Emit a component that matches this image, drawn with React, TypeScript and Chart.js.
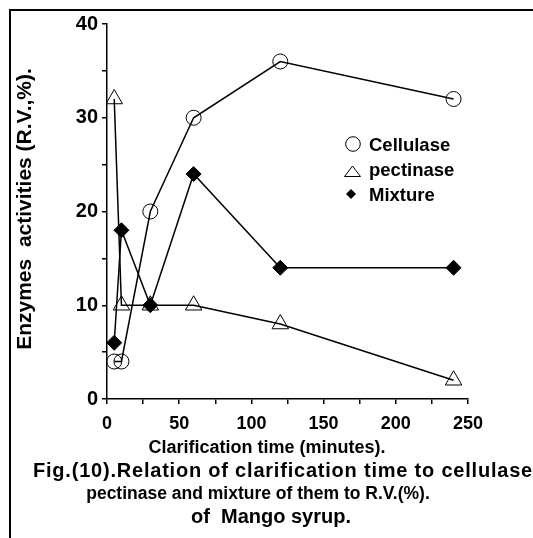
import React, { useEffect, useRef } from "react";
import { Chart, registerables } from "chart.js";

Chart.register(...registerables);

const times = [5, 10, 30, 60, 120, 240];
const cellulase = [4, 4, 20, 30, 36, 32];
const pectinase = [32, 10, 10, 10, 8, 2];
const mixture = [6, 18, 10, 24, 14, 14];
const seriesNames = ["Cellulase", "pectinase", "Mixture"];
const yTitle = "Enzymes  activities (R.V.,%).";
const xTitle = "Clarification time (minutes).";
const captionLines = [
  "Fig.(10).Relation of clarification time to cellulase",
  "pectinase and mixture of them to R.V.(%).",
  "of  Mango syrup.",
];

const FONT = '"Liberation Sans", Arial, Helvetica, sans-serif';

export default function App() {
  const ref = useRef<HTMLCanvasElement>(null);

  useEffect(() => {
    const canvas = ref.current;
    if (!canvas) return;
    const pts = (ys: number[]) => times.map((t, i) => ({ x: t, y: ys[i] }));

    const decor = {
      id: "decor",
      afterDraw(chart: any) {
        const ctx: CanvasRenderingContext2D = chart.ctx;
        ctx.save();
        ctx.fillStyle = "#000";
        ctx.strokeStyle = "#000";
        // frame
        ctx.fillRect(9, 9, 524, 2);
        ctx.fillRect(9, 9, 2, 529);

        // y title
        ctx.font = `bold 21px ${FONT}`;
        ctx.textAlign = "center";
        ctx.textBaseline = "middle";
        ctx.save();
        ctx.translate(25, 209);
        ctx.rotate(-Math.PI / 2);
        ctx.fillText(yTitle, 0, 0);
        ctx.restore();

        // x title & caption
        ctx.font = `bold 18px ${FONT}`;
        ctx.fillText(xTitle, 267, 448);
        ctx.font = `bold 20px ${FONT}`;
        const l1 = captionLines[0];
        const w0 = ctx.measureText(l1).width;
        const ls = Math.max(0, (500 - w0) / l1.length);
        ctx.textAlign = "left";
        (ctx as any).letterSpacing = `${ls}px`;
        ctx.fillText(l1, 33, 471);
        (ctx as any).letterSpacing = "0px";
        ctx.textAlign = "center";
        ctx.font = `bold 17.5px ${FONT}`;
        ctx.fillText(captionLines[1], 258, 494);
        ctx.font = `bold 20px ${FONT}`;
        ctx.fillText(captionLines[2], 271, 517);

        // legend
        ctx.font = `bold 18.5px ${FONT}`;
        ctx.textAlign = "left";
        ctx.textBaseline = "alphabetic";
        ctx.lineWidth = 1;
        ctx.beginPath();
        ctx.arc(353, 144, 7.3, 0, Math.PI * 2);
        ctx.stroke();
        ctx.beginPath();
        ctx.moveTo(352.5, 166);
        ctx.lineTo(344.5, 176.5);
        ctx.lineTo(360.5, 176.5);
        ctx.closePath();
        ctx.stroke();
        ctx.beginPath();
        ctx.moveTo(351, 189);
        ctx.lineTo(356, 194);
        ctx.lineTo(351, 199);
        ctx.lineTo(346, 194);
        ctx.closePath();
        ctx.fill();
        ctx.fillText(seriesNames[0], 369, 151);
        ctx.fillText(seriesNames[1], 369, 176);
        ctx.fillText(seriesNames[2], 369, 201);
        ctx.restore();
      },
    };

    const xTickFont = { family: FONT, size: 18, weight: "bold" as const };
    const yTickFont = { family: FONT, size: 20, weight: "bold" as const };

    const chart = new Chart(canvas, {
      type: "line",
      data: {
        datasets: [
          {
            label: seriesNames[0],
            data: pts(cellulase),
            borderColor: "#000",
            borderWidth: 1.5,
            pointStyle: "circle",
            pointRadius: 7.5,
            pointBorderWidth: 1,
            pointBorderColor: "#000",
            pointBackgroundColor: "rgba(0,0,0,0)",
            tension: 0,
          },
          {
            label: seriesNames[1],
            data: pts(pectinase),
            borderColor: "#000",
            borderWidth: 1.5,
            pointStyle: "triangle",
            pointRadius: 9.5,
            pointBorderWidth: 1,
            pointBorderColor: "#000",
            pointBackgroundColor: "rgba(0,0,0,0)",
            tension: 0,
          },
          {
            label: seriesNames[2],
            data: pts(mixture),
            borderColor: "#000",
            borderWidth: 1.5,
            pointStyle: "rectRot",
            pointRadius: 7.5,
            pointBorderWidth: 1,
            pointBorderColor: "#000",
            pointBackgroundColor: "#000",
            tension: 0,
          },
        ],
      },
      options: {
        responsive: false,
        animation: false,
        devicePixelRatio: 1,
        layout: { padding: { left: 0, top: 24, right: 65, bottom: 0 } },
        plugins: {
          legend: { display: false },
          tooltip: { enabled: false },
          title: { display: false },
        },
        scales: {
          x: {
            type: "linear",
            min: 0,
            max: 250,
            afterFit: (s: any) => {
              s.height = 139;
            },
            ticks: {
              stepSize: 25,
              autoSkip: false,
              maxRotation: 0,
              color: "#000",
              font: xTickFont,
              padding: 9,
              callback: (v: any) => (Number(v) % 50 === 0 ? String(v) : ""),
            },
            grid: {
              display: true,
              drawOnChartArea: false,
              drawTicks: true,
              tickLength: 5,
              color: "#000",
              lineWidth: 1.5,
            },
            border: { display: true, color: "#000", width: 1.5 },
          },
          y: {
            type: "linear",
            min: 0,
            max: 40,
            afterFit: (s: any) => {
              s.width = 107;
            },
            ticks: {
              stepSize: 5,
              autoSkip: false,
              color: "#000",
              font: yTickFont,
              padding: 4,
              callback: (v: any) => (Number(v) % 10 === 0 ? String(v) : ""),
            },
            grid: {
              display: true,
              drawOnChartArea: false,
              drawTicks: true,
              tickLength: 5,
              color: "#000",
              lineWidth: 1.5,
            },
            border: { display: true, color: "#000", width: 1.5 },
          },
        },
      },
      plugins: [decor],
    });

    return () => chart.destroy();
  }, []);

  return (
    <div style={{ position: "absolute", left: 0, top: 0, width: 533, height: 538 }}>
      <canvas ref={ref} width={533} height={538} style={{ width: 533, height: 538, display: "block" }} />
    </div>
  );
}
